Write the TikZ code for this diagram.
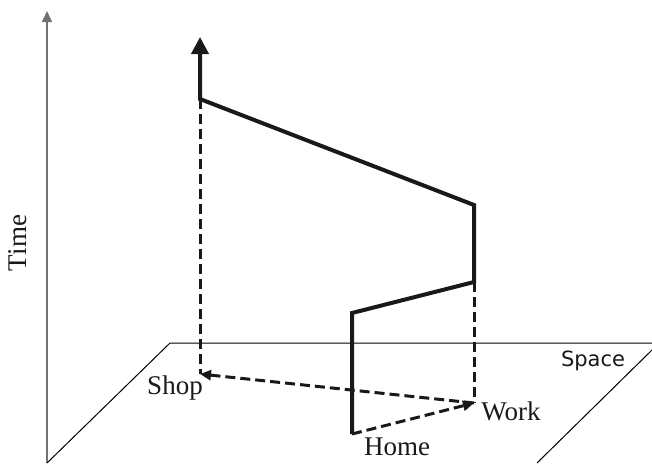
\documentclass[tikz,border=0pt]{standalone}
\usepackage{fontspec}
\setmainfont{Liberation Serif}
\newfontfamily\spacefont{DejaVu Sans}
\usetikzlibrary{arrows.meta}
\begin{document}
\begin{tikzpicture}[x=1pt,y=-1pt,
  axisline/.style={draw=black!55, line width=1.6pt},
  planeline/.style={draw=black, line width=1pt},
  trajectory/.style={draw=black!90, line width=4pt, line join=miter},
  projline/.style={draw=black!90, line width=3pt, dash pattern=on 10pt off 5pt},
  lbl/.style={font=\fontsize{27}{27}\selectfont, inner sep=0pt, text=black!90},
]
\useasboundingbox (0,0) rectangle (652,463);
% axis
\coordinate (axisBottom) at (47,463);
\coordinate (axisTop) at (47,11);
\draw[axisline, -{Triangle[width=10pt,length=11pt]}] (axisBottom) -- (axisTop);
% plane
\coordinate (pTL) at (170,343);
\coordinate (pTR) at (652,343);
\coordinate (pBL) at (47,463);
\coordinate (pR1) at (652,350);
\coordinate (pR2) at (537,463);
\draw[planeline] (pBL) -- (pTL) -- (pTR);
\draw[planeline] (pR1) -- (pR2);
% key points
\coordinate (home) at (352,434);
\coordinate (homeTop) at (352,313);
\coordinate (workLow) at (474,282);
\coordinate (workHigh) at (474,205);
\coordinate (shopTop) at (200,99);
\coordinate (endTop) at (200,37);
\coordinate (work) at (474,403);
\coordinate (shop) at (200,374);
% trajectory
\draw[trajectory, -{Triangle[width=17pt,length=17pt]}] (home) -- (homeTop) -- (workLow) -- (workHigh) -- (shopTop) -- (endTop);
% projections
\draw[projline] (shopTop) -- (shop);
\draw[projline] (workLow) -- (work);
\draw[projline, -{Triangle[width=10pt,length=11pt]}] (home) -- (work);
\draw[projline, -{Triangle[width=10pt,length=11pt]}] (work) -- (shop);
% labels
\node[lbl] (shopLbl) at (175,388) {Shop};
\node[lbl] (workLbl) at (511,411) {Work};
\node[lbl] (homeLbl) at (397,447) {Home};
\node[inner sep=0pt, text=black!90, font=\spacefont\fontsize{21}{21}\selectfont] (spaceLbl) at (593,361) {Space};
\node[lbl, rotate=90] (timeLbl) at (18,243) {Time};
\end{tikzpicture}
\end{document}
